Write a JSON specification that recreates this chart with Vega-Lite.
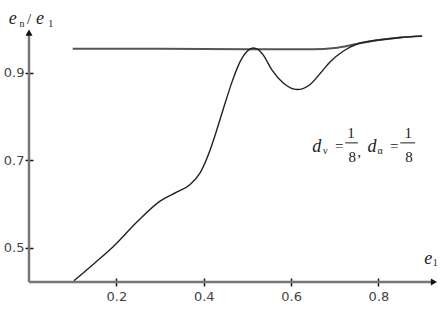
{
"$schema": "https://vega.github.io/schema/vega-lite/v6.json",
"width": 408, "height": 252,
"autosize": {"type": "none"},
"padding": {"left": 29, "top": 30, "right": 4, "bottom": 29},
"background": "white",
"config": {"view": {"stroke": null}},
"datasets": {
"flat": [
{"x":0.1,"y":0.955},{"x":0.3,"y":0.955},{"x":0.5,"y":0.954},{"x":0.65,"y":0.954},{"x":0.7,"y":0.957},{"x":0.75,"y":0.966},{"x":0.8,"y":0.975},{"x":0.85,"y":0.981},{"x":0.9,"y":0.984}
],
"curve": [
{"x":0.103,"y":0.425},{"x":0.15,"y":0.465},{"x":0.192,"y":0.502},{"x":0.247,"y":0.559},{"x":0.3,"y":0.607},{"x":0.339,"y":0.628},{"x":0.369,"y":0.645},{"x":0.392,"y":0.672},{"x":0.414,"y":0.722},{"x":0.43,"y":0.77},{"x":0.444,"y":0.815},{"x":0.465,"y":0.88},{"x":0.483,"y":0.925},{"x":0.5,"y":0.95},{"x":0.513,"y":0.957},{"x":0.525,"y":0.953},{"x":0.536,"y":0.941},{"x":0.556,"y":0.907},{"x":0.582,"y":0.877},{"x":0.614,"y":0.862},{"x":0.643,"y":0.873},{"x":0.666,"y":0.898},{"x":0.689,"y":0.925},{"x":0.72,"y":0.95},{"x":0.751,"y":0.966},{"x":0.8,"y":0.975},{"x":0.85,"y":0.981},{"x":0.9,"y":0.984}
],
"big": [
{"x":-0.037,"y":1.023,"t":"e"},{"x":0.025,"y":1.023,"t":"e"},{"x":0.914,"y":0.475,"t":"e"},{"x":0.659,"y":0.731,"t":"d"},{"x":0.785,"y":0.731,"t":"d"}
],
"sub": [
{"x":-0.016,"y":1.012,"t":"n"},{"x":0.05,"y":1.012,"t":"1"},{"x":0.930,"y":0.466,"t":"1"},{"x":0.678,"y":0.722,"t":"ν"},{"x":0.804,"y":0.722,"t":"α"}
],
"plain": [
{"x":0.0,"y":1.023,"t":"/"},{"x":0.710,"y":0.733,"t":"="},{"x":0.737,"y":0.763,"t":"1"},{"x":0.740,"y":0.708,"t":"8"},{"x":0.756,"y":0.719,"t":","},{"x":0.836,"y":0.733,"t":"="},{"x":0.868,"y":0.763,"t":"1"},{"x":0.870,"y":0.708,"t":"8"}
],
"bars": [
{"x":0.724,"x2":0.753,"y":0.740},{"x":0.850,"x2":0.884,"y":0.740}
],
"axes": [
{"x":0,"x2":0,"y":0.422,"y2":0.99},{"x":0,"x2":0.925,"y":0.422,"y2":0.422}
],
"arrows_up": [{"x":0,"y":0.992}],
"arrows_right": [{"x":0.927,"y":0.422}]
},
"encoding": {
"x": {"field": "x", "type": "quantitative",
"scale": {"domain": [0, 0.934], "nice": false, "zero": false},
"axis": {"values": [0.2,0.4,0.6,0.8], "domain": false, "grid": false, "offset": -4, "tickSize": 8, "tickWidth": 1.5, "tickColor": "#111", "labelPadding": 4, "labelFont": "DejaVu Sans", "labelFontSize": 13, "labelColor": "#444", "title": null, "format": ".1f"}},
"y": {"field": "y", "type": "quantitative",
"scale": {"domain": [0.422, 0.998], "nice": false, "zero": false},
"axis": {"values": [0.5,0.7,0.9], "domain": false, "grid": false, "offset": -4, "tickSize": 8, "tickWidth": 1.5, "tickColor": "#111", "labelPadding": 1, "labelFont": "DejaVu Sans", "labelFontSize": 13, "labelColor": "#444", "title": null, "format": ".1f"}}
},
"layer": [
{"data": {"name": "axes"}, "mark": {"type": "rule", "color": "#777", "strokeWidth": 2.5},
 "encoding": {"x2": {"field": "x2"}, "y2": {"field": "y2"}}},
{"data": {"name": "arrows_up"}, "mark": {"type": "point", "shape": "triangle-up", "filled": true, "color": "#111", "size": 50, "opacity": 1}},
{"data": {"name": "arrows_right"}, "mark": {"type": "point", "shape": "triangle-right", "filled": true, "color": "#111", "size": 50, "opacity": 1}},
{"data": {"name": "flat"}, "mark": {"type": "line", "color": "#555", "strokeWidth": 2, "interpolate": "monotone"}},
{"data": {"name": "curve"}, "mark": {"type": "line", "color": "#222", "strokeWidth": 1.4, "interpolate": "monotone"}},
{"data": {"name": "bars"}, "mark": {"type": "rule", "color": "#222", "strokeWidth": 1}, "encoding": {"x2": {"field": "x2"}}},
{"data": {"name": "big"}, "mark": {"type": "text", "font": "Liberation Serif", "fontStyle": "italic", "fontSize": 18, "color": "#222", "baseline": "middle", "align": "center"}, "encoding": {"text": {"field": "t"}}},
{"data": {"name": "sub"}, "mark": {"type": "text", "font": "Liberation Serif", "fontSize": 10, "color": "#222", "baseline": "middle", "align": "center"}, "encoding": {"text": {"field": "t"}}},
{"data": {"name": "plain"}, "mark": {"type": "text", "font": "Liberation Serif", "fontSize": 15, "color": "#222", "baseline": "middle", "align": "center"}, "encoding": {"text": {"field": "t"}}}
]
}
